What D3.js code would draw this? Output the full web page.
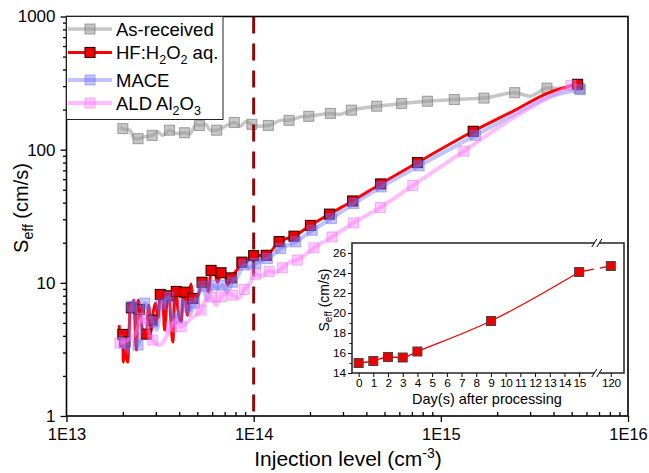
<!DOCTYPE html>
<html>
<head>
<meta charset="utf-8">
<script src="https://cdn.jsdelivr.net/npm/d3@7"></script>
<style>
body{margin:0;background:#fff;}
text{font-family:"Liberation Sans",Arial,sans-serif;fill:#000;}
</style>
</head>
<body>
<svg id="chart" width="649" height="473"></svg>
<script>
// injection level (cm^-3), Seff (cm/s) -- marker points and extra line points
var grayMarks = [[2.00e13,144],[2.41e13,121],[2.87e13,128],[3.55e13,140],[4.27e13,134],[5.13e13,152],[6.34e13,140],[7.88e13,160],[9.78e13,155],[11.99e13,152],[15.45e13,166],[19.7e13,178],[25.7e13,187],[33.3e13,198],[45.4e13,212],[61.7e13,222],[84.8e13,231],[118e13,238],[170e13,244],[248e13,268],[369e13,290],[550e13,287]];
var grayLine = [[1.93e13,148],[2.18e13,140],[2.31e13,121],[2.62e13,125],[3.07e13,136],[3.26e13,128],[3.87e13,132],[4.54e13,131],[4.94e13,155],[5.52e13,155],[5.87e13,140],[6.88e13,147],[8.47e13,150],[9.12e13,163],[10.7e13,150],[14.2e13,166],[17.46e13,175],[28.5e13,184],[299e13,252]];

var hfMarks = [[2.00e13,4.10],[2.05e13,3.61],[2.22e13,6.49],[2.46e13,6.31],[2.67e13,4.12],[2.87e13,5.25],[3.17e13,8.18],[3.52e13,7.99],[3.86e13,8.62],[4.27e13,8.51],[4.73e13,7.64],[5.30e13,10.1],[5.92e13,12.4],[6.69e13,11.9],[7.59e13,10.9],[8.65e13,14.3],[10.0e13,16.0],[11.66e13,16.1],[13.67e13,20.4],[16.42e13,22.4],[20.1e13,27.0],[25.4e13,32.8],[33.8e13,41.2],[47.7e13,55.3],[75.0e13,80.0],[148.9e13,137.4],[538e13,309.6]];
var hfLine = [[1.91e13,4.82],[1.96e13,3.41],[2.01e13,2.54],[2.07e13,3.02],[2.12e13,2.54],[2.20e13,7.04],[2.29e13,7.41],[2.36e13,3.13],[2.42e13,7.41],[2.55e13,4.42],[2.75e13,6.80],[2.83e13,4.27],[2.99e13,7.04],[3.08e13,5.43],[3.26e13,8.51],[3.34e13,4.42],[3.47e13,7.94],[3.70e13,3.59],[3.80e13,8.97],[3.94e13,6.24],[4.10e13,5.07],[4.22e13,8.81],[4.43e13,5.72],[4.63e13,9.78],[4.89e13,7.41],[5.04e13,7.94],[5.57e13,10.5],[5.73e13,8.51],[6.17e13,12.5],[6.40e13,10.1],[6.97e13,12.5],[7.23e13,9.61],[7.97e13,12.0],[8.27e13,12.9],[9.12e13,14.3],[9.46e13,15.3],[248e13,197.5],[373e13,266]];

var maceMarks = [[2.03e13,3.53],[2.23e13,6.68],[2.41e13,3.41],[2.62e13,7.04],[2.89e13,5.07],[3.21e13,6.92],[3.52e13,7.81],[3.93e13,5.43],[4.36e13,6.68],[4.83e13,7.04],[5.34e13,9.44],[6.04e13,9.61],[6.82e13,9.61],[7.71e13,10.1],[8.90e13,13.6],[10.27e13,14.0],[11.84e13,15.2],[13.95e13,18.1],[16.77e13,20.3],[20.55e13,24.8],[26.06e13,30.4],[34.24e13,39.4],[48.08e13,52.5],[76.6e13,75.7],[153.1e13,128.2],[557e13,282.5]];
var maceLine = [[1.93e13,4.05],[2.12e13,3.02],[2.31e13,7.41],[2.49e13,4.42],[2.75e13,6.24],[3.03e13,4.42],[3.34e13,7.41],[3.73e13,4.82],[4.11e13,7.41],[4.54e13,5.72],[5.13e13,8.51],[5.66e13,7.41],[6.40e13,9.12],[7.23e13,8.51],[8.27e13,11.4],[9.46e13,12.9],[248e13,184.3],[373e13,247]];

var aldMarks = [[1.93e13,3.53],[2.55e13,5.43],[2.89e13,3.72],[3.63e13,4.68],[4.10e13,4.68],[5.24e13,6.24],[5.92e13,7.81],[6.71e13,7.85],[7.71e13,8.09],[8.90e13,8.92],[10.27e13,11.6],[12.09e13,12.2],[14.23e13,12.96],[17.1e13,14.8],[20.98e13,18.3],[26.2e13,22.1],[34.2e13,28.2],[47.5e13,36.8],[70.8e13,53.8],[132.8e13,97.3],[496e13,304]];
var aldLine = [[2.31e13,4.05],[3.14e13,3.41],[3.82e13,5.25],[4.65e13,5.43],[5.52e13,7.41],[6.32e13,6.80],[7.23e13,8.37],[8.37e13,7.68],[9.58e13,9.95],[10.96e13,11.2],[13.17e13,12.0],[15.6e13,14.3],[248e13,175.9]];

var xMajor = [1e13,1e14,1e15,1e16];
var yMajor = [1,10,100,1000];
var markerLine = 1e14;

// inset: Seff vs days after processing
var inDays = [0,1,2,3,4,9,15,120];
var inSeff = [15.0,15.2,15.6,15.55,16.15,19.2,24.1,24.7];
var inXTicks = [0,1,2,3,4,5,6,7,8,9,10,11,12,13,14,15,120];
var inYTicks = [14,16,18,20,22,24,26];

var legendNames = ["As-received","HF:H_2O_2 aq.","MACE","ALD Al_2O_3"];

var styles = [
  {line:"#c6c6c6", lw:3.5, lo:1,    fill:"#999999", fo:0.55, stroke:"#777777", so:0.6},
  {line:"#ff0000", lw:3,   lo:1,    fill:"#ee0000", fo:1,    stroke:"#3a0000", so:1},
  {line:"#7878ff", lw:4,   lo:0.45, fill:"#6a6aff", fo:0.4,  stroke:"#6a6aff", so:0.45},
  {line:"#ff7cff", lw:4,   lo:0.5,  fill:"#ff7cff", fo:0.4,  stroke:"#e070e0", so:0.45}
];

var svg = d3.select("#chart");
var x = d3.scaleLog().domain([1e13,1e16]).range([66.5,628]);
var y = d3.scaleLog().domain([1,1000]).range([416,16.5]);

function merged(marks, extra){
  return marks.concat(extra).sort(function(a,b){ return a[0]-b[0]; });
}
var series = [
  {marks:grayMarks, line:merged(grayMarks,grayLine)},
  {marks:hfMarks,   line:merged(hfMarks,hfLine)},
  {marks:maceMarks, line:merged(maceMarks,maceLine)},
  {marks:aldMarks,  line:merged(aldMarks,aldLine)}
];

svg.append("defs").append("clipPath").attr("id","plotclip")
  .append("rect").attr("x",66.5).attr("y",16.5).attr("width",561.5).attr("height",399.5);

var plot = svg.append("g").attr("clip-path","url(#plotclip)");
var lineGen = d3.line().x(function(d){return x(d[0]);}).y(function(d){return y(d[1]);}).curve(d3.curveMonotoneX);
var ms = 10;

function drawSeries(i){
  var s = series[i], st = styles[i];
  plot.append("path").attr("d", lineGen(s.line))
    .attr("fill","none").attr("stroke",st.line).attr("stroke-width",st.lw)
    .attr("stroke-opacity",st.lo).attr("stroke-linejoin","round");
  plot.append("g").selectAll("rect").data(s.marks).enter().append("rect")
    .attr("x",function(d){return x(d[0])-ms/2;}).attr("y",function(d){return y(d[1])-ms/2;})
    .attr("width",ms).attr("height",ms)
    .attr("fill",st.fill).attr("fill-opacity",st.fo)
    .attr("stroke",st.stroke).attr("stroke-opacity",st.so).attr("stroke-width",1.1);
}

drawSeries(0);
// dashed marker line at 1E14
plot.append("line").attr("x1",x(markerLine)).attr("x2",x(markerLine))
  .attr("y1",y(1000)).attr("y2",y(1))
  .attr("stroke","#8b0a0a").attr("stroke-width",3).attr("stroke-dasharray","17,10");
drawSeries(1);
drawSeries(2);
drawSeries(3);

// axes
function minorTicks(lo,hi){
  var t=[];
  for(var e=lo;e<hi;e++) for(var k=2;k<=9;k++) t.push(k*Math.pow(10,e));
  return t;
}
var fmtX = function(d){ return "1E"+Math.round(Math.log10(d)); };

var gx = svg.append("g").attr("transform","translate(0,416)")
  .call(d3.axisBottom(x).tickValues(xMajor).tickFormat(fmtX).tickSize(6).tickPadding(6));
var gxm = svg.append("g").attr("transform","translate(0,416)")
  .call(d3.axisBottom(x).tickValues(minorTicks(13,16)).tickFormat("").tickSize(-4));
var gy = svg.append("g").attr("transform","translate(66.5,0)")
  .call(d3.axisLeft(y).tickValues(yMajor).tickFormat(d3.format("d")).tickSize(6).tickPadding(5));
var gym = svg.append("g").attr("transform","translate(66.5,0)")
  .call(d3.axisLeft(y).tickValues(minorTicks(0,3)).tickFormat("").tickSize(3.5));
[gx,gxm,gy,gym].forEach(function(g){
  g.select(".domain").remove();
  g.selectAll("line").attr("stroke","#000").attr("stroke-width",1.3);
  g.selectAll("text").attr("font-size",17).attr("font-family","Liberation Sans, Arial, sans-serif");
});
gx.selectAll("text").attr("font-size",16.5);

svg.append("rect").attr("x",66.5).attr("y",16.5).attr("width",561.5).attr("height",399.5)
  .attr("fill","none").attr("stroke","#000").attr("stroke-width",1.6);

// axis titles
var xt = svg.append("text").attr("x",348).attr("y",466).attr("text-anchor","middle").attr("font-size",21);
xt.append("tspan").text("Injection level (cm");
xt.append("tspan").attr("font-size",14).attr("dy",-8).text("-3");
xt.append("tspan").attr("dy",8).text(")");

var yt = svg.append("text").attr("transform","translate(28,208) rotate(-90)").attr("text-anchor","middle").attr("font-size",20);
yt.append("tspan").text("S");
yt.append("tspan").attr("font-size",14).attr("dy",5).text("eff");
yt.append("tspan").attr("dy",-5).text(" (cm/s)");

// legend
var legendY = [29,52.5,80,103];
var lg = svg.append("g");
lg.append("rect").attr("x",66.5).attr("y",16.5).attr("width",156.5).attr("height",103)
  .attr("fill","#fff").attr("stroke","#222").attr("stroke-width",1);
legendNames.forEach(function(name,i){
  var st = styles[i], ly = legendY[i];
  lg.append("line").attr("x1",68).attr("x2",112).attr("y1",ly).attr("y2",ly)
    .attr("stroke",st.line).attr("stroke-width",st.lw).attr("stroke-opacity",st.lo);
  lg.append("rect").attr("x",90-ms/2).attr("y",ly-ms/2).attr("width",ms).attr("height",ms)
    .attr("fill",st.fill).attr("fill-opacity",st.fo)
    .attr("stroke",st.stroke).attr("stroke-opacity",st.so).attr("stroke-width",1.1);
  var t = lg.append("text").attr("x",116).attr("y",ly+6.5).attr("font-size",18.5);
  var parts = name.split(/_(\d)/);
  parts.forEach(function(p,j){
    if(!p) return;
    if(j%2==1){
      t.append("tspan").attr("font-size",12.5).attr("dy",5).text(p);
    } else {
      var ts = t.append("tspan").text(p);
      if(j>0) ts.attr("dy",-5);
    }
  });
});

// inset
var xi = d3.scaleLinear().domain([-0.45,18.05]).range([352,624]);
var yi = d3.scaleLinear().domain([14,27]).range([373,243]);
function dayPos(d){ return d>15 ? 17.15 : d; }
var breakDay = 16.2;

var ins = svg.append("g");
ins.append("rect").attr("x",352).attr("y",243).attr("width",272).attr("height",130).attr("fill","#fff");

var inPts = inDays.map(function(d,i){ return [xi(dayPos(d)), yi(inSeff[i])]; });
var near = inPts.filter(function(p,i){ return inDays[i]<=15; });
var far = inPts.slice(near.length-1);
ins.append("path").attr("d", d3.line().curve(d3.curveMonotoneX)(near))
  .attr("fill","none").attr("stroke","#ff0000").attr("stroke-width",1.3);
var farPath = ins.append("path").attr("d", d3.line()(far))
  .attr("fill","none").attr("stroke","#ff0000").attr("stroke-width",1.3);
var segLen = farPath.node().getTotalLength();
var tb = (xi(breakDay)-far[0][0])/(far[1][0]-far[0][0]);
farPath.attr("stroke-dasharray",(tb*segLen-3)+",6,"+segLen);

ins.selectAll(".im").data(inPts).enter().append("rect")
  .attr("x",function(d){return d[0]-4.5;}).attr("y",function(d){return d[1]-4.5;})
  .attr("width",9).attr("height",9)
  .attr("fill","#ee0000").attr("stroke","#444").attr("stroke-width",1);

var gix = ins.append("g").attr("transform","translate(0,373)")
  .call(d3.axisBottom(xi).tickValues(inXTicks.map(dayPos)).tickSize(4).tickPadding(2)
    .tickFormat(function(d,i){ return inXTicks[i]; }));
var giy = ins.append("g").attr("transform","translate(352,0)")
  .call(d3.axisLeft(yi).tickValues(inYTicks).tickSize(4).tickPadding(2));
var giym = ins.append("g").attr("transform","translate(352,0)")
  .call(d3.axisLeft(yi).tickValues(d3.range(15,27,2)).tickFormat("").tickSize(2.5));
[gix,giy,giym].forEach(function(g){
  g.select(".domain").remove();
  g.selectAll("line").attr("stroke","#000").attr("stroke-width",1);
  g.selectAll("text").attr("font-size",11.8).attr("font-family","Liberation Sans, Arial, sans-serif");
});
gix.selectAll("text").attr("letter-spacing",-0.3);
ins.append("rect").attr("x",352).attr("y",243).attr("width",272).attr("height",130)
  .attr("fill","none").attr("stroke","#222").attr("stroke-width",1.5);

// axis break marks
var bx = xi(breakDay);
[243,373].forEach(function(by){
  ins.append("rect").attr("x",bx-2.5).attr("y",by-2).attr("width",5).attr("height",4).attr("fill","#fff");
  [-2.5,2.5].forEach(function(o){
    ins.append("line").attr("x1",bx+o-2.5).attr("y1",by+4).attr("x2",bx+o+2.5).attr("y2",by-4)
      .attr("stroke","#000").attr("stroke-width",1);
  });
});

var ixt = ins.append("text").attr("x",487).attr("y",404).attr("text-anchor","middle").attr("font-size",14.5)
  .text("Day(s) after processing");
var iyt = ins.append("text").attr("transform","translate(329,300) rotate(-90)").attr("text-anchor","middle").attr("font-size",14);
iyt.append("tspan").text("S");
iyt.append("tspan").attr("font-size",10).attr("dy",3).text("eff");
iyt.append("tspan").attr("dy",-3).text(" (cm/s)");
</script>
</body>
</html>
